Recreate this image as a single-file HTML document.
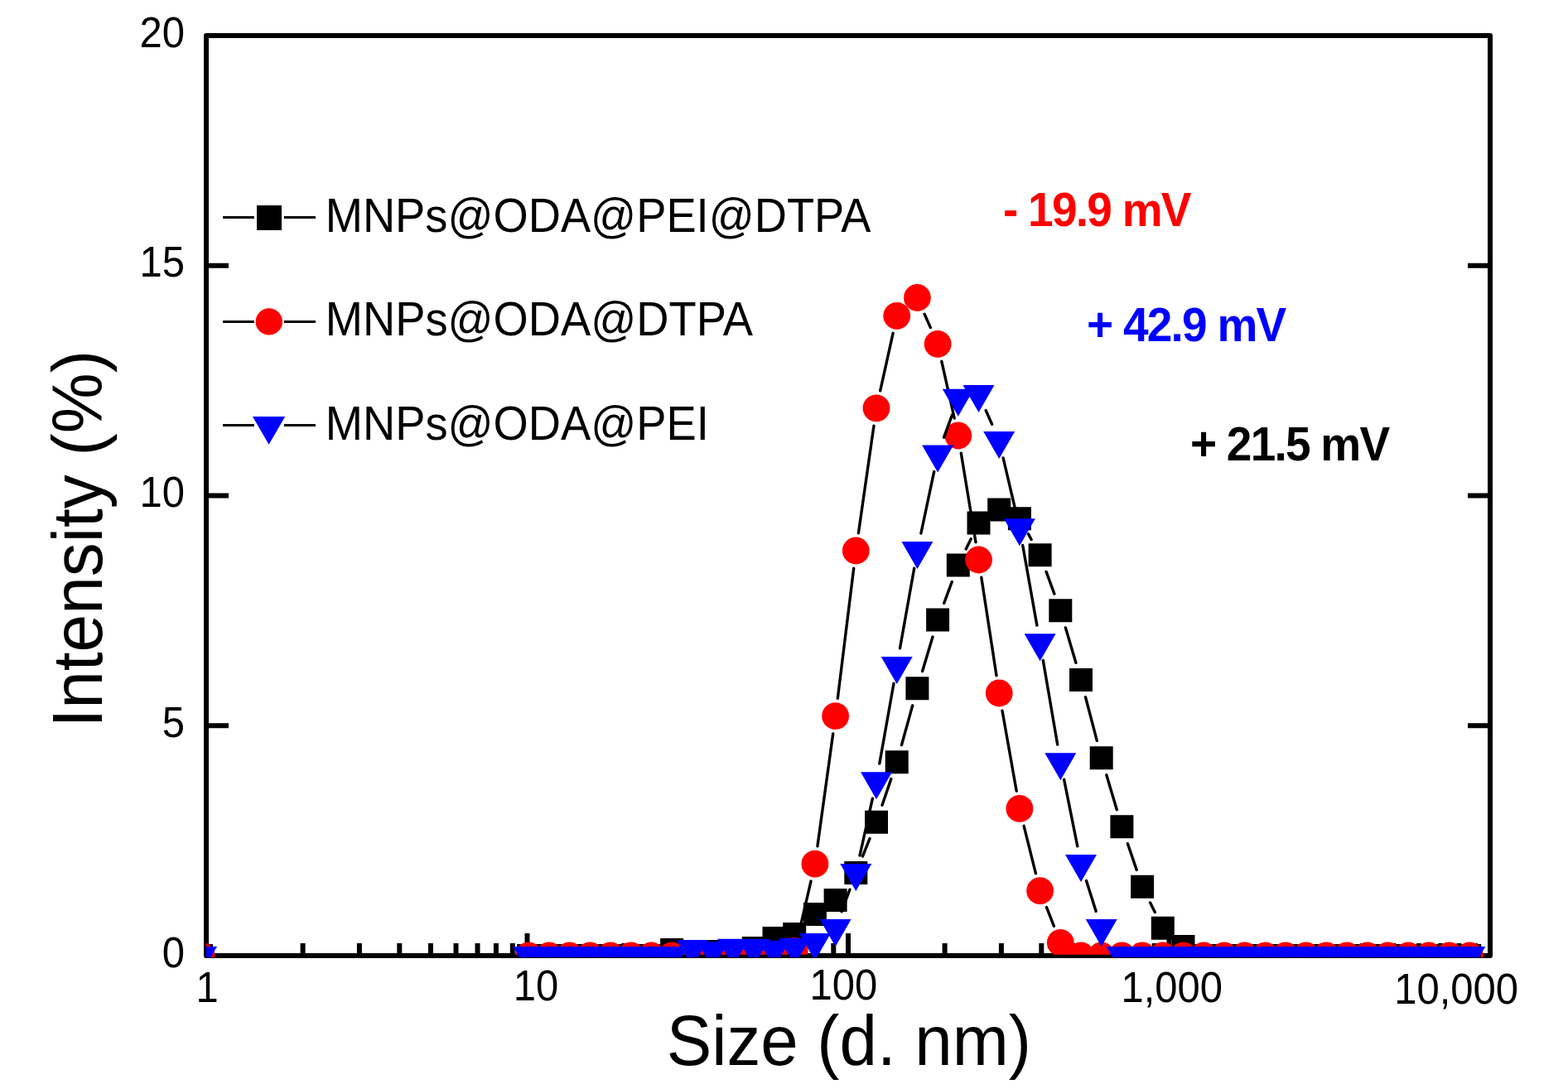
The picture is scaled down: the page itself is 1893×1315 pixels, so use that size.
<!DOCTYPE html>
<html><head><meta charset="utf-8"><title>DLS size distribution</title>
<style>
html,body{margin:0;padding:0;background:#fff;}
svg{display:block;}
text{font-family:'Liberation Sans',sans-serif;}
</style></head>
<body>
<svg width="1893" height="1315" viewBox="0 0 1893 1315">
<rect width="1893" height="1315" fill="#fff"/>
<defs><clipPath id="pc"><rect x="249" y="43" width="1547" height="1113"/></clipPath></defs>
<!-- axes frame -->
<path d="M249 43H1799V1154H249Z" fill="none" stroke="#000" stroke-width="6" stroke-linejoin="round"/>
<path d="M252 876.2H276M1796 876.2H1772M252 598.5H276M1796 598.5H1772M252 320.8H276M1796 320.8H1772M365.6 1151V1139M433.9 1151V1139M482.3 1151V1139M519.9 1151V1139M550.5 1151V1139M576.5 1151V1139M598.9 1151V1139M618.8 1151V1139M636.5 1151V1127M753.1 1151V1139M821.4 1151V1139M869.8 1151V1139M907.4 1151V1139M938.0 1151V1139M964.0 1151V1139M986.4 1151V1139M1006.3 1151V1139M1024.0 1151V1127M1140.6 1151V1139M1208.9 1151V1139M1257.3 1151V1139M1294.9 1151V1139M1325.5 1151V1139M1351.5 1151V1139M1373.9 1151V1139M1393.8 1151V1139M1411.5 1151V1127M1528.1 1151V1139M1596.4 1151V1139M1644.8 1151V1139M1682.4 1151V1139M1713.0 1151V1139M1739.0 1151V1139M1761.4 1151V1139M1781.3 1151V1139" stroke="#000" stroke-width="6" fill="none" stroke-linecap="butt"/>
<!-- y tick labels -->
<g font-size="49" text-anchor="end">
<g transform="translate(223 56.5) scale(1 1.04)"><text x="0" y="0" >20</text></g>
<g transform="translate(223 334) scale(1 1.04)"><text x="0" y="0" >15</text></g>
<g transform="translate(223 611.7) scale(1 1.04)"><text x="0" y="0" >10</text></g>
<g transform="translate(223 889.5) scale(1 1.04)"><text x="0" y="0" >5</text></g>
<g transform="translate(223 1167.5) scale(1 1.04)"><text x="0" y="0" >0</text></g>
</g>
<!-- x tick labels -->
<g font-size="49">
<g transform="translate(236.6 1209.8) scale(1 1.04)"><text x="0" y="0" >1</text></g>
<g transform="translate(619.7 1207.8) scale(1 1.04)"><text x="0" y="0" >10</text></g>
<g transform="translate(977.6 1206.9) scale(1 1.04)"><text x="0" y="0" >100</text></g>
<g transform="translate(1353.5 1210) scale(1 1.04)"><text x="0" y="0" >1,000</text></g>
<g transform="translate(1683.2 1212) scale(1 1.04)"><text x="0" y="0" >10,000</text></g>
</g>
<!-- axis titles -->
<g transform="translate(123 878.6) rotate(-90) scale(1 1.045)"><text font-size="82" x="0" y="0">Intensity (%)</text></g>
<g transform="translate(804.8 1286.2) scale(0.996 1.05)"><text x="0" y="0" font-size="82">Size (d. nm)</text></g>
<!-- legend -->
<g stroke="#000" stroke-width="3" fill="none">
<path d="M269 262.5H306.8M342.9 262.5H381M269 388.4H306.8M342.9 388.4H381M269 513.5H306.8M342.9 513.5H381"/>
</g>
<rect x="310" y="248" width="30" height="30" fill="#000"/>
<circle cx="324.8" cy="388.4" r="16.2" fill="#f00"/>
<path d="M305 503H344.2L324.6 536.8Z" fill="#00f"/>
<g font-size="54">
<g transform="translate(392.7 279.6) scale(1.005 1.075)"><text x="0" y="0" >MNPs@ODA@PEI@DTPA</text></g>
<g transform="translate(392.8 404.9) scale(1.005 1.075)"><text x="0" y="0" >MNPs@ODA@DTPA</text></g>
<g transform="translate(392.8 531.1) scale(1.005 1.075)"><text x="0" y="0" >MNPs@ODA@PEI</text></g>
</g>
<!-- zeta annotations -->
<g font-size="55" font-weight="bold">
<g transform="translate(1211 272.8) scale(1 1.05)"><text x="0" y="0" fill="#f00" textLength="227.5" lengthAdjust="spacing">- 19.9 mV</text></g>
<g transform="translate(1312 411.9) scale(1 1.05)"><text x="0" y="0" fill="#00f" textLength="241.3" lengthAdjust="spacing">+ 42.9 mV</text></g>
<g transform="translate(1437 555.9) scale(1 1.05)"><text x="0" y="0" fill="#000" textLength="241.1" lengthAdjust="spacing">+ 21.5 mV</text></g>
</g>
<!-- data -->
<g clip-path="url(#pc)">
<path d="M264.5 1154.0L616.7 1154.0M1041.4 1034.1L1050.0 1012.6M1065.0 972.3L1075.8 940.6M1088.5 899.5L1101.7 851.9M1113.6 810.6L1126.0 769.1M1139.7 728.4L1149.3 702.5M1166.2 663.0L1172.2 650.8M1241.5 644.9L1245.1 651.5M1263.1 690.4L1272.9 717.1M1286.4 757.9L1298.9 800.3M1310.5 841.7L1324.3 894.4M1335.8 935.8L1348.3 977.7M1361.4 1018.7L1372.2 1050.4M1388.6 1090.1L1394.3 1101.5" fill="none" stroke="#000" stroke-width="3.4" stroke-linecap="round"/>
<path d="M229.0 1140.0h28.0v28.0h-28.0zM624.2 1140.0h28.0v28.0h-28.0zM648.9 1140.0h28.0v28.0h-28.0zM673.6 1140.0h28.0v28.0h-28.0zM698.3 1140.0h28.0v28.0h-28.0zM723.0 1140.0h28.0v28.0h-28.0zM747.7 1140.0h28.0v28.0h-28.0zM772.4 1140.0h28.0v28.0h-28.0zM797.1 1133.0h28.0v28.0h-28.0zM821.8 1135.0h28.0v28.0h-28.0zM846.5 1135.0h28.0v28.0h-28.0zM871.1 1135.0h28.0v28.0h-28.0zM895.8 1131.0h28.0v28.0h-28.0zM920.5 1119.0h28.0v28.0h-28.0zM945.2 1114.0h28.0v28.0h-28.0zM969.9 1090.0h28.0v28.0h-28.0zM994.6 1073.0h28.0v28.0h-28.0zM1019.3 1040.0h28.0v28.0h-28.0zM1044.0 978.7h28.0v28.0h-28.0zM1068.7 906.2h28.0v28.0h-28.0zM1093.4 817.2h28.0v28.0h-28.0zM1118.1 734.5h28.0v28.0h-28.0zM1142.8 668.4h28.0v28.0h-28.0zM1167.5 617.4h28.0v28.0h-28.0zM1192.2 601.5h28.0v28.0h-28.0zM1216.9 612.2h28.0v28.0h-28.0zM1241.6 656.2h28.0v28.0h-28.0zM1266.3 723.3h28.0v28.0h-28.0zM1291.0 806.9h28.0v28.0h-28.0zM1315.7 901.2h28.0v28.0h-28.0zM1340.4 984.3h28.0v28.0h-28.0zM1365.1 1056.8h28.0v28.0h-28.0zM1389.8 1106.8h28.0v28.0h-28.0zM1414.5 1129.1h28.0v28.0h-28.0zM1439.2 1140.0h28.0v28.0h-28.0zM1463.9 1140.0h28.0v28.0h-28.0zM1488.6 1140.0h28.0v28.0h-28.0zM1513.3 1140.0h28.0v28.0h-28.0zM1538.0 1140.0h28.0v28.0h-28.0zM1562.7 1140.0h28.0v28.0h-28.0zM1587.4 1140.0h28.0v28.0h-28.0zM1612.1 1140.0h28.0v28.0h-28.0zM1636.8 1140.0h28.0v28.0h-28.0zM1661.5 1140.0h28.0v28.0h-28.0zM1686.2 1140.0h28.0v28.0h-28.0zM1710.9 1140.0h28.0v28.0h-28.0zM1735.6 1140.0h28.0v28.0h-28.0zM1760.3 1140.0h28.0v28.0h-28.0z" fill="#000"/>
<path d="M264.5 1154.0L616.7 1154.0M964.2 1127.6L979.0 1064.1M986.9 1021.9L1005.7 886.0M1011.3 843.4L1030.7 686.3M1036.4 643.7L1055.0 514.1M1062.7 471.8L1078.1 402.3M1116.1 379.2L1123.4 395.6M1136.8 436.3L1152.2 505.0M1160.3 547.2L1178.0 654.8M1184.8 697.3L1203.0 815.7M1210.0 858.2L1227.2 955.2M1236.1 997.3L1250.4 1054.7M1263.5 1095.6L1272.4 1118.3" fill="none" stroke="#000" stroke-width="3.4" stroke-linecap="round"/>
<circle cx="243.0" cy="1154.0" r="16.4" fill="#f00"/><circle cx="638.2" cy="1154.0" r="16.4" fill="#f00"/><circle cx="662.9" cy="1154.0" r="16.4" fill="#f00"/><circle cx="687.6" cy="1154.0" r="16.4" fill="#f00"/><circle cx="712.3" cy="1154.0" r="16.4" fill="#f00"/><circle cx="737.0" cy="1154.0" r="16.4" fill="#f00"/><circle cx="761.7" cy="1154.0" r="16.4" fill="#f00"/><circle cx="786.4" cy="1154.0" r="16.4" fill="#f00"/><circle cx="811.1" cy="1154.0" r="16.4" fill="#f00"/><circle cx="835.8" cy="1154.0" r="16.4" fill="#f00"/><circle cx="860.5" cy="1154.0" r="16.4" fill="#f00"/><circle cx="885.1" cy="1154.0" r="16.4" fill="#f00"/><circle cx="909.8" cy="1154.0" r="16.4" fill="#f00"/><circle cx="934.5" cy="1154.0" r="16.4" fill="#f00"/><circle cx="959.2" cy="1148.5" r="16.4" fill="#f00"/><circle cx="983.9" cy="1043.2" r="16.4" fill="#f00"/><circle cx="1008.6" cy="864.7" r="16.4" fill="#f00"/><circle cx="1033.3" cy="665.0" r="16.4" fill="#f00"/><circle cx="1058.0" cy="492.8" r="16.4" fill="#f00"/><circle cx="1082.7" cy="381.3" r="16.4" fill="#f00"/><circle cx="1107.4" cy="359.5" r="16.4" fill="#f00"/><circle cx="1132.1" cy="415.3" r="16.4" fill="#f00"/><circle cx="1156.8" cy="526.0" r="16.4" fill="#f00"/><circle cx="1181.5" cy="676.0" r="16.4" fill="#f00"/><circle cx="1206.2" cy="837.0" r="16.4" fill="#f00"/><circle cx="1230.9" cy="976.4" r="16.4" fill="#f00"/><circle cx="1255.6" cy="1075.6" r="16.4" fill="#f00"/><circle cx="1280.3" cy="1138.3" r="16.4" fill="#f00"/><circle cx="1305.0" cy="1154.0" r="16.4" fill="#f00"/><circle cx="1329.7" cy="1154.0" r="16.4" fill="#f00"/><circle cx="1354.4" cy="1154.0" r="16.4" fill="#f00"/><circle cx="1379.1" cy="1154.0" r="16.4" fill="#f00"/><circle cx="1403.8" cy="1154.0" r="16.4" fill="#f00"/><circle cx="1428.5" cy="1154.0" r="16.4" fill="#f00"/><circle cx="1453.2" cy="1154.0" r="16.4" fill="#f00"/><circle cx="1477.9" cy="1154.0" r="16.4" fill="#f00"/><circle cx="1502.6" cy="1154.0" r="16.4" fill="#f00"/><circle cx="1527.3" cy="1154.0" r="16.4" fill="#f00"/><circle cx="1552.0" cy="1154.0" r="16.4" fill="#f00"/><circle cx="1576.7" cy="1154.0" r="16.4" fill="#f00"/><circle cx="1601.4" cy="1154.0" r="16.4" fill="#f00"/><circle cx="1626.1" cy="1154.0" r="16.4" fill="#f00"/><circle cx="1650.8" cy="1154.0" r="16.4" fill="#f00"/><circle cx="1675.5" cy="1154.0" r="16.4" fill="#f00"/><circle cx="1700.2" cy="1154.0" r="16.4" fill="#f00"/><circle cx="1724.9" cy="1154.0" r="16.4" fill="#f00"/><circle cx="1749.6" cy="1154.0" r="16.4" fill="#f00"/><circle cx="1774.3" cy="1154.0" r="16.4" fill="#f00"/>
<rect x="600" y="1152.8" width="1187.6" height="4.5" fill="#000"/>
<path d="M264.5 1154.0L616.7 1154.0M1016.1 1100.8L1025.9 1074.2M1038.0 1033.0L1053.4 964.2M1061.8 922.0L1079.0 825.2M1086.5 782.8L1103.7 686.2M1111.9 644.0L1127.7 569.4M1139.5 528.2L1149.5 501.0M1190.2 495.6L1197.6 512.3M1211.1 552.9L1226.0 616.4M1234.7 658.5L1251.9 755.1M1259.3 797.5L1276.7 899.1M1284.6 941.3L1300.8 1021.9M1311.5 1063.5L1323.2 1100.4" fill="none" stroke="#000" stroke-width="3.4" stroke-linecap="round"/>
<path d="M224.0 1143.0L262.0 1143.0L243.0 1176.0zM619.2 1143.0L657.2 1143.0L638.2 1176.0zM643.9 1143.0L681.9 1143.0L662.9 1176.0zM668.6 1143.0L706.6 1143.0L687.6 1176.0zM693.3 1143.0L731.3 1143.0L712.3 1176.0zM718.0 1143.0L756.0 1143.0L737.0 1176.0zM742.7 1143.0L780.7 1143.0L761.7 1176.0zM767.4 1143.0L805.4 1143.0L786.4 1176.0zM792.1 1143.0L830.1 1143.0L811.1 1176.0zM816.8 1135.1L854.8 1135.1L835.8 1168.1zM841.5 1137.0L879.5 1137.0L860.5 1170.0zM866.1 1133.8L904.1 1133.8L885.1 1166.8zM890.8 1134.0L928.8 1134.0L909.8 1167.0zM915.5 1135.7L953.5 1135.7L934.5 1168.7zM940.2 1132.8L978.2 1132.8L959.2 1165.8zM964.9 1127.0L1002.9 1127.0L983.9 1160.0zM989.6 1110.0L1027.6 1110.0L1008.6 1143.0zM1014.3 1043.0L1052.3 1043.0L1033.3 1076.0zM1039.0 932.2L1077.0 932.2L1058.0 965.2zM1063.7 793.0L1101.7 793.0L1082.7 826.0zM1088.4 654.0L1126.4 654.0L1107.4 687.0zM1113.1 537.4L1151.1 537.4L1132.1 570.4zM1137.8 469.8L1175.8 469.8L1156.8 502.8zM1162.5 464.9L1200.5 464.9L1181.5 497.9zM1187.2 521.0L1225.2 521.0L1206.2 554.0zM1211.9 626.3L1249.9 626.3L1230.9 659.3zM1236.6 765.3L1274.6 765.3L1255.6 798.3zM1261.3 909.2L1299.3 909.2L1280.3 942.2zM1286.0 1032.0L1324.0 1032.0L1305.0 1065.0zM1310.7 1109.9L1348.7 1109.9L1329.7 1142.9zM1335.4 1143.0L1373.4 1143.0L1354.4 1176.0zM1360.1 1143.0L1398.1 1143.0L1379.1 1176.0zM1384.8 1143.0L1422.8 1143.0L1403.8 1176.0zM1409.5 1143.0L1447.5 1143.0L1428.5 1176.0zM1434.2 1143.0L1472.2 1143.0L1453.2 1176.0zM1458.9 1143.0L1496.9 1143.0L1477.9 1176.0zM1483.6 1143.0L1521.6 1143.0L1502.6 1176.0zM1508.3 1143.0L1546.3 1143.0L1527.3 1176.0zM1533.0 1143.0L1571.0 1143.0L1552.0 1176.0zM1557.7 1143.0L1595.7 1143.0L1576.7 1176.0zM1582.4 1143.0L1620.4 1143.0L1601.4 1176.0zM1607.1 1143.0L1645.1 1143.0L1626.1 1176.0zM1631.8 1143.0L1669.8 1143.0L1650.8 1176.0zM1656.5 1143.0L1694.5 1143.0L1675.5 1176.0zM1681.2 1143.0L1719.2 1143.0L1700.2 1176.0zM1705.9 1143.0L1743.9 1143.0L1724.9 1176.0zM1730.6 1143.0L1768.6 1143.0L1749.6 1176.0zM1755.3 1143.0L1793.3 1143.0L1774.3 1176.0z" fill="#00f"/>
</g>
</svg>
</body></html>
